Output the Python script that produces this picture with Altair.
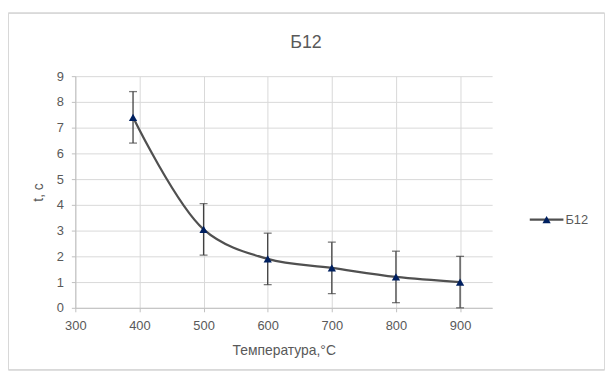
import altair as alt
import pandas as pd

# Data
temperatures = [390, 500, 600, 700, 800, 900]
times = [7.4, 3.05, 1.9, 1.55, 1.2, 1.0]
errors = [1.0, 1.0, 1.0, 1.0, 1.0, 1.0]
x_ticks = [300, 400, 500, 600, 700, 800, 900]
y_ticks = [0, 1, 2, 3, 4, 5, 6, 7, 8, 9]
series_name = "Б12"
chart_title = "Б12"

df = pd.DataFrame({"T": temperatures, "t": times, "err": errors})

FONT = "Liberation Sans"
TXT = "#595959"
W, H = 421, 234

x_scale = alt.Scale(domain=[300, 950], nice=False, zero=False)
y_scale = alt.Scale(domain=[0, 9], nice=False, zero=False)

x_axis = alt.Axis(values=x_ticks, title="Температура,°С", titleFont=FONT,
                  titleFontSize=14, titleFontWeight="normal", titleColor=TXT,
                  titleY=43, titleBaseline="middle", labelFlush=False,
                  labelFont=FONT, labelFontSize=13, labelColor=TXT, labelPadding=8,
                  grid=True, gridColor="#d9d9d9", domainColor="#bfbfbf",
                  tickColor="#bfbfbf", tickSize=4)
y_axis = alt.Axis(values=y_ticks, title="t, с", titleFont=FONT,
                  titleFontSize=14, titleFontWeight="normal", titleColor=TXT,
                  titleX=-37, titleY=H / 2, titleBaseline="middle", labelFlush=False,
                  labelOverlap=False,
                  labelFont=FONT, labelFontSize=13, labelColor=TXT, labelPadding=8,
                  grid=True, gridColor="#d9d9d9", domainColor="#bfbfbf",
                  tickColor="#bfbfbf", tickSize=4)


def X(field):
    return alt.X(field, scale=x_scale, axis=x_axis)


def Y(field):
    return alt.Y(field, scale=y_scale, axis=y_axis)


base = alt.Chart(df).transform_calculate(
    lo="datum.t - datum.err", hi="datum.t + datum.err"
)

border = alt.Chart(df).mark_rect(fill=None, stroke="#d9d9d9", strokeWidth=1).encode(
    x=alt.value(-67.5), x2=alt.value(534.5), y=alt.value(-63.5), y2=alt.value(296.5)
)

line = alt.Chart(df).mark_line(color="#505050", strokeWidth=2.25, interpolate="catmull-rom").encode(
    x=X("T:Q"), y=Y("t:Q"),
)

err_rule = base.mark_rule(color="#404040", strokeWidth=1.3).encode(
    x=X("T:Q"), y=Y("lo:Q"), y2="hi:Q"
)
cap_lo = base.mark_tick(color="#404040", orient="horizontal", size=8, thickness=1.3).encode(
    x=X("T:Q"), y=Y("lo:Q")
)
cap_hi = base.mark_tick(color="#404040", orient="horizontal", size=8, thickness=1.3).encode(
    x=X("T:Q"), y=Y("hi:Q")
)

points = alt.Chart(df).mark_point(shape="triangle-up", filled=True, color="#002060",
                                  opacity=1, size=70).encode(
    x=X("T:Q"), y=Y("t:Q")
)

# Chart title as text mark
title_df = pd.DataFrame({"title": [chart_title]})
title_txt = alt.Chart(title_df).mark_text(font=FONT, fontSize=18, color=TXT, align="center",
                                          baseline="alphabetic").encode(
    x=alt.value(233), y=alt.value(-28), text="title:N"
)

# Manual legend
leg_df = pd.DataFrame({"name": [series_name]})
leg_line = alt.Chart(leg_df).mark_rule(color="#505050", strokeWidth=2.25).encode(
    x=alt.value(459), x2=alt.value(493), y=alt.value(145)
)
leg_pt = alt.Chart(leg_df).mark_point(shape="triangle-up", filled=True, color="#002060",
                                      opacity=1, size=70).encode(
    x=alt.value(476), y=alt.value(145)
)
leg_txt = alt.Chart(leg_df).mark_text(font=FONT, fontSize=13, color=TXT, align="left",
                                      baseline="middle").encode(
    x=alt.value(495), y=alt.value(145), text="name:N"
)

chart = alt.layer(
    border, line, err_rule, cap_lo, cap_hi, points, title_txt, leg_line, leg_pt, leg_txt
).properties(
    width=W, height=H,
    background="white",
    autosize=alt.AutoSizeParams(type="none"),
    padding={"left": 68, "top": 67, "right": 115, "bottom": 64},
).configure_view(stroke=None)

chart.save("out.html", embed_options={"renderer": "svg", "actions": False})
